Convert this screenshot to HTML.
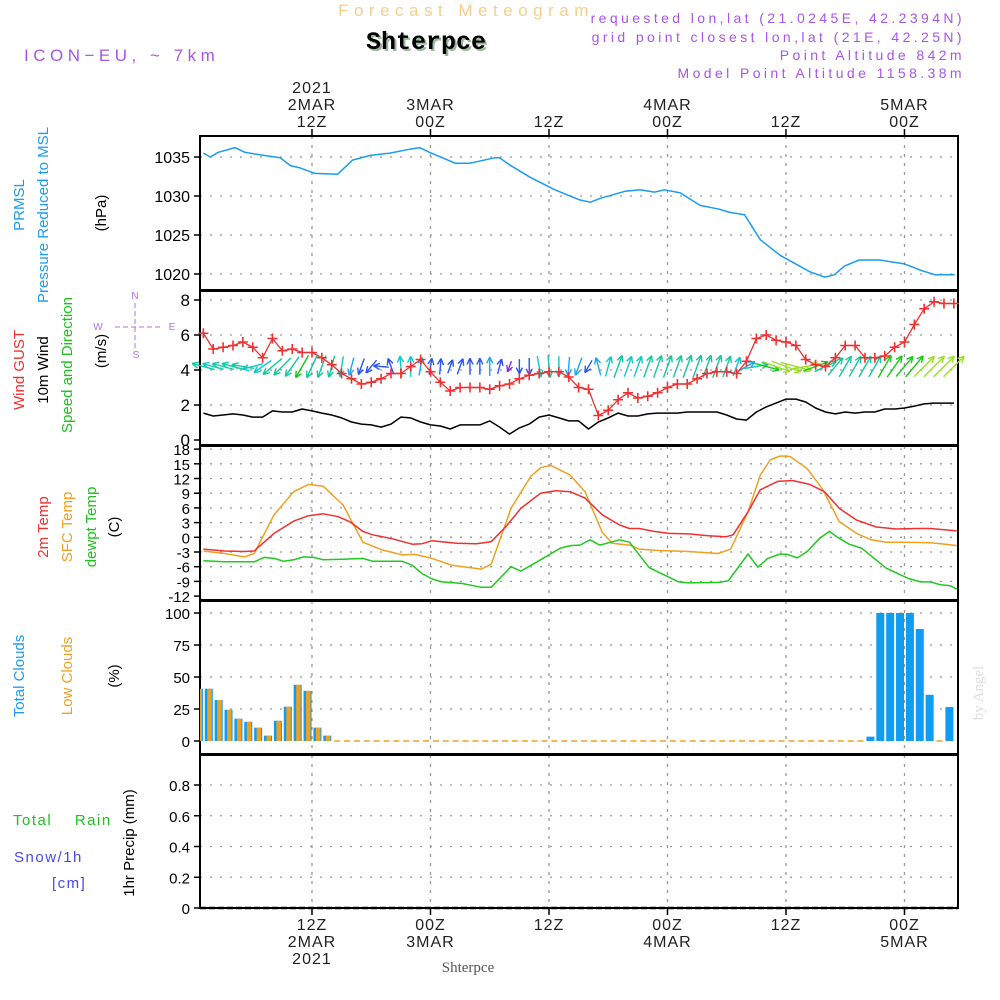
<!DOCTYPE html>
<html><head><meta charset="utf-8"><style>
body{margin:0;background:#fff}
svg{display:block}
text{font-family:"Liberation Sans",sans-serif}
</style></head><body>
<svg id="chart" width="1000" height="1000" viewBox="0 0 1000 1000" xmlns="http://www.w3.org/2000/svg">
<rect x="0" y="0" width="1000" height="1000" fill="#fff"/>
<g>
<text x="466" y="16" text-anchor="middle" font-size="17" fill="#f5cf8a" letter-spacing="5.5">Forecast Meteogram</text>
<text x="426" y="49" text-anchor="middle" font-size="25" font-weight="bold" fill="#9bb89b" style="font-family:'Liberation Mono',monospace" transform="translate(2,2)">Shterpce</text>
<text x="426" y="49" text-anchor="middle" font-size="25" font-weight="bold" fill="#000" style="font-family:'Liberation Mono',monospace">Shterpce</text>
<text x="24" y="61" font-size="17" fill="#a855e8" letter-spacing="4.5">ICON−EU, ~ 7km</text>
<text x="965" y="23" text-anchor="end" font-size="14" fill="#a855e8" letter-spacing="3.4">requested lon,lat (21.0245E, 42.2394N)</text>
<text x="965" y="42" text-anchor="end" font-size="14" fill="#a855e8" letter-spacing="3.4">grid point closest lon,lat (21E, 42.25N)</text>
<text x="965" y="60" text-anchor="end" font-size="14" fill="#a855e8" letter-spacing="3.4">Point Altitude 842m</text>
<text x="965" y="78" text-anchor="end" font-size="14" fill="#a855e8" letter-spacing="3.4">Model Point Altitude 1158.38m</text>
</g>
<g font-size="15">
<text transform="translate(24,205) rotate(-90)" text-anchor="middle" fill="#1a9cf0">PRMSL</text>
<text transform="translate(48,215) rotate(-90)" text-anchor="middle" fill="#1a9cf0">Pressure Reduced to MSL</text>
<text transform="translate(106,213) rotate(-90)" text-anchor="middle" fill="#000">(hPa)</text>
<text transform="translate(24,370) rotate(-90)" text-anchor="middle" fill="#f03030">Wind GUST</text>
<text transform="translate(48,370) rotate(-90)" text-anchor="middle" fill="#000">10m Wind</text>
<text transform="translate(72,365) rotate(-90)" text-anchor="middle" fill="#20c020">Speed and Direction</text>
<text transform="translate(106,351) rotate(-90)" text-anchor="middle" fill="#000">(m/s)</text>
<g fill="#b070e8" stroke="#b070e8" font-size="10">
<text x="135" y="299" text-anchor="middle" stroke="none">N</text>
<text x="136" y="358" text-anchor="middle" stroke="none">S</text>
<text x="98" y="330" text-anchor="middle" stroke="none">W</text>
<text x="172" y="330" text-anchor="middle" stroke="none">E</text>
<line x1="115" y1="327" x2="162" y2="327" stroke-width="1" stroke-dasharray="5,3"/>
<line x1="135" y1="303" x2="135" y2="348" stroke-width="1" stroke-dasharray="5,3"/>
</g>
<text transform="translate(48,527) rotate(-90)" text-anchor="middle" fill="#f03030">2m Temp</text>
<text transform="translate(72,527) rotate(-90)" text-anchor="middle" fill="#f0a020">SFC Temp</text>
<text transform="translate(96,527) rotate(-90)" text-anchor="middle" fill="#20c020">dewpt Temp</text>
<text transform="translate(119,527) rotate(-90)" text-anchor="middle" fill="#000">(C)</text>
<text transform="translate(24,676) rotate(-90)" text-anchor="middle" fill="#1a9cf0">Total Clouds</text>
<text transform="translate(72,676) rotate(-90)" text-anchor="middle" fill="#f0a020">Low Clouds</text>
<text transform="translate(119,676) rotate(-90)" text-anchor="middle" fill="#000">(%)</text>
<text x="13" y="825" fill="#20c020" xml:space="preserve" letter-spacing="1.5">Total    Rain</text>
<text x="14" y="862" fill="#4848f0" letter-spacing="1.5">Snow/1h</text>
<text x="52" y="888" fill="#4848f0" letter-spacing="1.5">[cm]</text>
<text transform="translate(134,843) rotate(-90)" text-anchor="middle" fill="#000">1hr Precip (mm)</text>
</g>
<text transform="translate(983,693) rotate(-90)" text-anchor="middle" font-size="15" fill="#dcdcdc" style="font-family:'Liberation Serif',serif">by Angel</text>
<text x="468" y="972" text-anchor="middle" font-size="15" fill="#555" style="font-family:'Liberation Serif',serif">Shterpce</text>
<g id="plot"></g>
</svg>
<script>
// ---- data ----
const timeTicksH = [12, 24, 36, 48, 60, 72];
const topLabels = [["2021","2MAR","12Z"],["3MAR","00Z"],["12Z"],["4MAR","00Z"],["12Z"],["5MAR","00Z"]];
const bottomLabels = [["12Z","2MAR","2021"],["00Z","3MAR"],["12Z"],["00Z","4MAR"],["12Z"],["00Z","5MAR"]];

const pressHours = [1,1.7,2.5,4.2,5.2,6.7,8.8,9.8,10.8,12.3,14.6,16.1,17.9,19.9,21.9,22.9,23.9,26.5,28,30.5,31,32,34.1,36.6,39.1,40.2,41.2,43.7,45.2,46.7,47.7,49.3,51.3,53.3,54.3,55.8,57.4,59.4,62.4,63.9,64.9,65.9,67.4,69.5,72,73.6,75.1,77.1];
const pressVals = [1035.5,1035.0,1035.6,1036.2,1035.6,1035.3,1034.9,1033.9,1033.6,1032.9,1032.8,1034.6,1035.2,1035.5,1036.0,1036.2,1035.6,1034.2,1034.2,1034.9,1034.9,1034.0,1032.4,1030.8,1029.5,1029.2,1029.7,1030.6,1030.8,1030.5,1030.8,1030.4,1028.8,1028.3,1027.9,1027.6,1024.4,1022.4,1020.3,1019.6,1019.9,1021.0,1021.8,1021.8,1021.3,1020.5,1019.9,1019.9];
const pressTicks = [1020,1025,1030,1035];

// hourly wind, hours 1..77
const gustVals = [6.1,5.2,5.3,5.4,5.6,5.3,4.7,5.8,5.1,5.2, 5.0,5.0,4.7,4.3,3.8,3.5,3.2,3.3,3.5,3.8, 3.8,4.2,4.6,3.9,3.3,2.8,3.0,3.0,3.0,2.9, 3.1,3.2,3.5,3.7,3.8,3.9,3.9,3.6,3.0,2.9, 1.4,1.7,2.3,2.7,2.4,2.5,2.7,3.0,3.2,3.2, 3.5,3.8,3.9,3.9,3.8,4.5,5.8,6.0,5.7,5.6, 5.4,4.6,4.3,4.2,4.7,5.4,5.4,4.7,4.7,4.8, 5.3,5.6,6.6,7.5,7.9,7.8,7.8];
const windVals = [1.54,1.37,1.43,1.49,1.43,1.31,1.31,1.66,1.6,1.6, 1.77,1.66,1.54,1.43,1.26,1.03,0.91,0.86,0.74,0.91, 1.31,1.26,1.03,0.86,0.8,0.63,0.86,0.86,0.86,1.09, 0.74,0.34,0.69,0.91,1.31,1.43,1.26,1.09,1.09,0.63, 1.03,1.26,1.54,1.37,1.37,1.49,1.54,1.54,1.54,1.6, 1.6,1.6,1.6,1.43,1.2,1.14,1.6,1.89,2.11,2.34, 2.34,2.17,1.83,1.6,1.49,1.6,1.54,1.6,1.6,1.77, 1.77,1.83,1.94,2.06,2.11,2.11,2.11];
const windDir = [285,285,285,285,280,255,235,230,225,215, 210,205,200,195,190,195,200,220,275,340, 355,0,10,10,5,20,20,0,0,0, 15,200,180,180,170,175,180,185,200,210, 345,15,20,20,20,20,20,20,20,20, 20,20,20,20,20,60,80,105,110,110, 105,80,70,65,40,30,30,30,30,30, 35,40,40,45,45,45,45];
const windTicks = [0,2,4,6,8];

const t2Hours = [1,3.15,5.15,6.15,8.15,10.15,11.65,13.15,14.65,15.9,17.15,18.15,20.15,22.15,23.15,24.15,25.15,26.65,28.65,30.15,31.65,33.15,35.15,36.65,38.15,39.65,41.4,43.15,44.15,45.15,46.65,48.15,50.15,52.15,53.9,54.65,56.15,57.4,59.15,60.65,62.4,63.9,65.4,67.15,69.15,71.15,73.15,74.65,76.15,77.3];
const t2Vals = [-2.4,-2.8,-2.9,-2.8,0.8,3.3,4.4,4.8,4.2,3.1,1.2,0.5,-0.3,-1.4,-1.3,-0.7,-0.9,-1.2,-1.3,-0.9,2.2,5.9,9.0,9.5,9.3,8.0,4.6,2.5,1.8,1.8,1.2,0.8,0.7,0.3,0.1,0.5,5.2,9.7,11.4,11.6,10.8,9.3,5.9,3.5,2.1,1.7,1.8,1.8,1.5,1.3];
const sfcHours = [1,3.15,5.15,6.15,8.15,10.15,11.65,13.15,15.15,17.15,19.15,21.15,22.4,24.15,26.15,29.15,30.15,32.15,34.15,35.15,36.15,38.15,39.65,41.4,42.4,44.15,45.15,47.15,50.15,53.15,54.4,56.15,57.4,58.4,59.4,60.4,62.15,63.65,65.4,67.15,68.65,70.15,72.15,74.65,76.15,77.3];
const sfcVals = [-2.8,-3.3,-4.0,-3.3,4.6,9.3,10.8,10.4,6.6,-1.0,-2.6,-3.6,-3.5,-4.3,-5.7,-6.5,-5.5,5.9,12.4,14.2,14.7,12.7,9.3,1.0,-1.2,-1.6,-2.4,-2.7,-2.9,-3.3,-2.4,5.2,12.7,15.8,16.6,16.5,14.0,10.0,3.2,0.8,-0.5,-1.0,-1.0,-1.1,-1.4,-1.7];
const dewHours = [1,3.15,6.15,7.15,8.15,9.15,10.15,11.15,12.15,13.15,15.15,17.15,18.15,21.15,22.15,23.15,24.15,25.15,27.15,28.15,29.15,30.15,32.15,33.15,35.15,37.15,38.15,39.15,40.15,41.15,43.15,44.15,46.15,49.15,50.15,53.15,54.15,56.15,57.15,58.15,59.4,60.15,61.15,62.15,63.4,64.4,65.15,66.4,67.65,70.15,72.4,73.65,74.65,75.65,76.65,77.3];
const dewVals = [-4.8,-5.0,-5.0,-4.1,-4.3,-4.9,-4.6,-4.0,-4.1,-4.6,-4.5,-4.3,-4.9,-4.9,-5.7,-7.4,-8.5,-9.1,-9.4,-9.8,-10.2,-10.2,-6.0,-6.9,-4.6,-2.2,-1.7,-1.6,-0.5,-1.6,-0.5,-1.0,-6.2,-9.1,-9.3,-9.2,-8.9,-3.4,-6.1,-4.3,-3.4,-3.5,-4.2,-2.9,-0.2,1.2,0.1,-1.4,-2.2,-6.3,-8.4,-9.1,-9.1,-9.7,-9.9,-10.6];
const tempTicks = [-12,-9,-6,-3,0,3,6,9,12,15,18];

// clouds, bars at hours 0.55 + i
const totalClouds = [40.8,40.8,32,24.4,17.4,15,10.4,4.2,15.8,26.8,43.9,39.2,10.4,4.2,0,0,0,0,0,0,0,0,0,0,0,0,0,0,0,0,0,0,0,0,0,0,0,0,0,0,0,0,0,0,0,0,0,0,0,0,0,0,0,0,0,0,0,0,0,0,0,0,0,0,0,0,0,0,3.4,100,100,100,100,87.5,36.1,0,26.5];
const lowClouds = [40.8,40.8,32,24.4,17.4,15,10.4,4.2,15.8,26.8,43.9,39.2,10.4,4.2];
const cloudTicks = [0,25,50,75,100];

const precipVals = new Array(77).fill(0);
const precipTicks = [0,0.2,0.4,0.6,0.8];

// ---- layout ----
const L = 200, R = 958;
const H0 = 0.66, H1 = 77.42;
const xs = h => L + (h - H0) / (H1 - H0) * (R - L);
const panels = {
  p: {top:136, bot:290, y0:1020, py0:274, scale:7.8},
  w: {top:291, bot:445, y0:0, py0:440, scale:17.5},
  t: {top:446, bot:600, y0:0, py0:537.3, scale:4.9},
  c: {top:601, bot:754, y0:0, py0:741, scale:1.28},
  r: {top:755, bot:908, y0:0, py0:908, scale:153.75}
};
const ys = (k, v) => panels[k].py0 - (v - panels[k].y0) * panels[k].scale;

const NS = "http://www.w3.org/2000/svg";
const plot = document.getElementById('plot');
function mk(tag, attrs, parent) {
  const e = document.createElementNS(NS, tag);
  for (const k in attrs) e.setAttribute(k, attrs[k]);
  (parent || plot).appendChild(e);
  return e;
}

function panelAxes(k, ticks, fmt, fs, name) {
  const g = mk('g', {});
  
  
  const p = panels[k];
  ticks.forEach(v => {
    const y = ys(k, v);
    if (v !== ticks[0] || k === 'p') mk('line', {x1:L, x2:R, y1:y, y2:y, stroke:'#999', 'stroke-width':1.3, 'stroke-dasharray':'2,8'}, g);
    mk('line', {x1:L-6, x2:L, y1:y, y2:y, stroke:'#000', 'stroke-width':1.5}, g);
    const t = mk('text', {x:L-10, y:y+6, 'text-anchor':'end', 'font-size':fs, fill:'#000'}, g);
    
    
    t.textContent = fmt(v);
  });
  timeTicksH.forEach(h => {
    mk('line', {x1:xs(h), x2:xs(h), y1:p.top, y2:p.bot, stroke:'#999', 'stroke-width':1.3, 'stroke-dasharray':'3,6'}, g);
  });
}
panelAxes('p', pressTicks, v => v, 16, 'pressure');
panelAxes('w', windTicks, v => v, 17, 'wind');
panelAxes('t', tempTicks, v => v, 15, 'temp');
panelAxes('c', cloudTicks, v => v, 15, 'cloud');
panelAxes('r', precipTicks, v => v === 0 ? '0' : v.toFixed(1), 15, 'precip');

const frame = mk('g', {});


mk('rect', {x:L, y:136, width:R-L, height:908-136, fill:'none', stroke:'#000', 'stroke-width':2}, frame);
[290.5, 445.5, 600.5, 754.5].forEach(y => mk('line', {x1:L, x2:R, y1:y, y2:y, stroke:'#000', 'stroke-width':3}, frame));
mk('line', {x1:L, x2:R, y1:908, y2:908, stroke:'#000', 'stroke-width':2.5, 'stroke-dasharray':'6,3'}, frame);

timeTicksH.forEach((h, i) => {
  const x = xs(h);
  mk('line', {x1:x, x2:x, y1:129, y2:136, stroke:'#000', 'stroke-width':1.5});
  mk('line', {x1:x, x2:x, y1:908, y2:915, stroke:'#000', 'stroke-width':1.5});
  const tl = topLabels[i];
  tl.forEach((s, j) => {
    const t = mk('text', {x:x, y:127 - (tl.length - 1 - j) * 17, 'text-anchor':'middle', 'font-size':16, fill:'#222', 'letter-spacing':1});
    
    
    t.textContent = s;
  });
  bottomLabels[i].forEach((s, j) => {
    const t = mk('text', {x:x, y:930 + j * 17, 'text-anchor':'middle', 'font-size':16, fill:'#222', 'letter-spacing':1});
    
    
    t.textContent = s;
  });
});

function line(k, hours, vals, color, name, w) {
  const d = vals.map((v, i) => (i ? 'L' : 'M') + xs(hours[i]).toFixed(1) + ',' + ys(k, v).toFixed(1)).join('');
  const p = mk('path', {d:d, fill:'none', stroke:color, 'stroke-width':w || 1.5, 'stroke-linejoin':'round'});
  
  
  return p;
}
const hourly = n => Array.from({length:n}, (_, i) => i + 1);

line('p', pressHours, pressVals, '#1a9cf0', 'pressure-line');
line('w', hourly(windVals.length), windVals, '#000', 'wind10m-line');

function arrowColor(s) {
  if (s < 0.5) return '#8a2be2';
  if (s < 1.0) return '#2a55f0';
  if (s < 1.2) return '#18a8f0';
  if (s < 1.4) return '#10c8c8';
  if (s < 1.7) return '#14c8a0';
  if (s < 1.95) return '#18c818';
  return '#98e028';
}
const ag = mk('g', {});


windDir.forEach((dir, i) => {
  const s = windVals[i];
  const len = 8 + 10 * s;
  const a = dir * Math.PI / 180;
  const cx = xs(i + 1), cy = ys('w', 4.2);
  const dx = Math.sin(a) * len, dy = -Math.cos(a) * len;
  const x1 = cx - dx / 2, y1 = cy - dy / 2, x2 = cx + dx / 2, y2 = cy + dy / 2;
  const col = arrowColor(s);
  const g = mk('g', {stroke:col, 'stroke-width':1.4, fill:'none'}, ag);
  
  
  mk('line', {x1:x1, y1:y1, x2:x2, y2:y2}, g);
  [0.45, -0.45].forEach(o => {
    const b = a + Math.PI + o;
    mk('line', {x1:x2, y1:y2, x2:x2 + Math.sin(b) * 7, y2:y2 - Math.cos(b) * 7}, g);
  });
});

line('w', hourly(gustVals.length), gustVals, '#f03030', 'gust-line', 1.3);
const gg = mk('g', {stroke:'#f03030', 'stroke-width':1.6});


gustVals.forEach((v, i) => {
  const x = xs(i + 1), y = ys('w', v);
  mk('path', {d:`M${x-5},${y}H${x+5}M${x},${y-5}V${y+5}`}, gg);
});

line('t', sfcHours, sfcVals, '#f0a020', 'sfc-temp-line');
line('t', t2Hours, t2Vals, '#f03030', 't2m-line');
line('t', dewHours, dewVals, '#20c820', 'dewpoint-line');

const cg = mk('g', {});


totalClouds.forEach((v, i) => {
  const xc = xs(0.55 + i);
  const y = ys('c', v), y0 = ys('c', 0);
  if (v > 0) {
    const r = mk('rect', {x:Math.max(L, xc - 4), y:y, width:xc + 4 - Math.max(L, xc - 4), height:y0 - y, fill:'#109cf0'}, cg);
    
    
  } else {
    mk('line', {x1:xc - 3, x2:xc + 3, y1:y0, y2:y0, stroke:'#f0a020', 'stroke-width':1.5}, cg);
  }
  const lv = lowClouds[i] || 0;
  if (lv > 0) {
    const ly = ys('c', lv);
    const r2 = mk('rect', {x:Math.max(L, xc - 1.5), y:ly, width:xc + 3 - Math.max(L, xc - 1.5), height:y0 - ly, fill:'#f0a020'}, cg);
    
    
  }
});

const pg = mk('g', {});


precipVals.forEach((v, i) => {
  if (v > 0) {
    const x = xs(i + 1), y = ys('r', v);
    mk('rect', {x:x - 4, y:y, width:8, height:ys('r', 0) - y, fill:'#20c820'}, pg);
  }
});
</script>
</body></html>
